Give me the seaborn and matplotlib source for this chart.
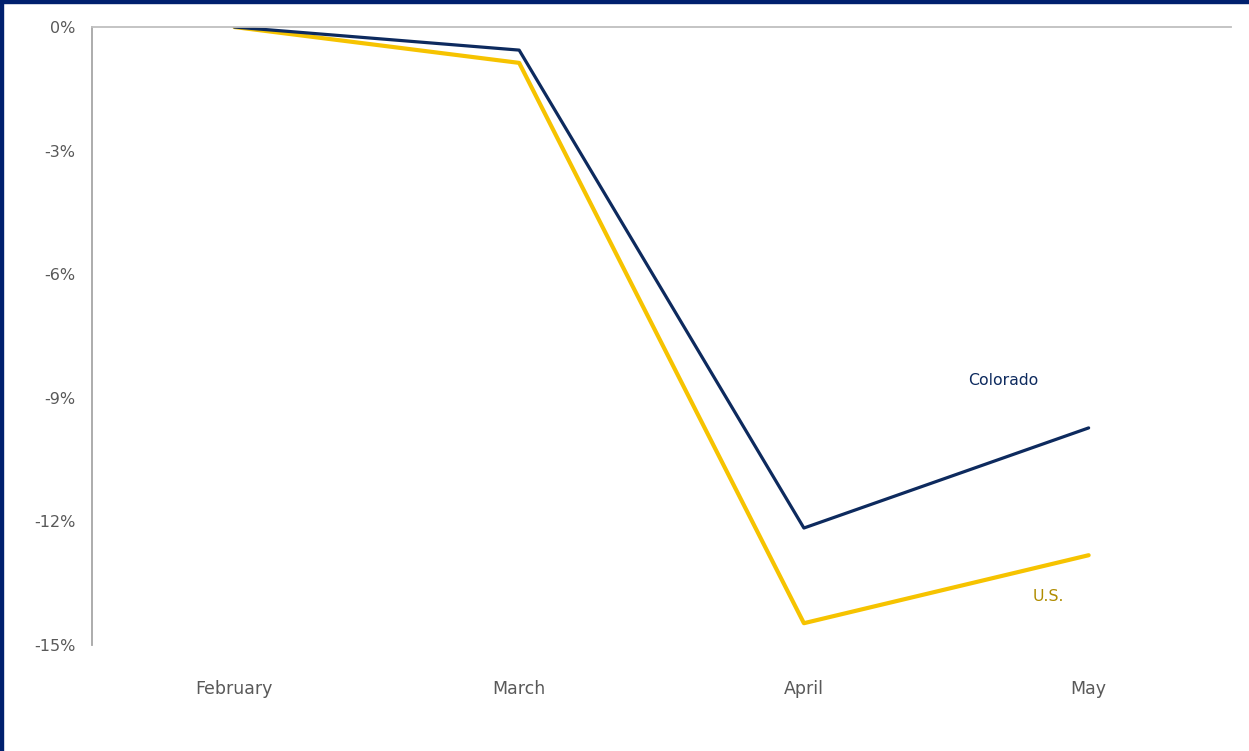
import pandas as pd
import matplotlib.pyplot as plt
import seaborn as sns
from matplotlib.patches import Rectangle

# dados (variação % desde fevereiro)
months = ['February', 'March', 'April', 'May']
colorado = [0.0, -0.56, -12.16, -9.73]
us = [0.0, -0.87, -14.47, -12.82]
yticks = [0, -3, -6, -9, -12, -15]

df = pd.DataFrame({
    'month': months * 2,
    'value': colorado + us,
    'region': ['Colorado'] * len(months) + ['U.S.'] * len(months),
})

sns.set_style('white')
plt.rcParams['font.family'] = ['DejaVu Sans']

fig = plt.figure(figsize=(12.49, 7.51), dpi=100)
ax = fig.add_axes([0.0737, 0.1411, 0.9119, 0.8229])

palette = {'Colorado': '#0d2a5e', 'U.S.': '#f6c300'}
sns.lineplot(data=df[df.region == 'U.S.'], x='month', y='value', color=palette['U.S.'],
             linewidth=3.0, ax=ax, legend=False, sort=False)
sns.lineplot(data=df[df.region == 'Colorado'], x='month', y='value', color=palette['Colorado'],
             linewidth=2.3, ax=ax, legend=False, sort=False)

ax.set_xlim(-0.5, 3.5)
ax.set_ylim(-15, 0)
ax.set_yticks(yticks)
ax.set_yticklabels([f'{t}%' for t in yticks])
ax.set_xlabel('')
ax.set_ylabel('')
ax.tick_params(axis='both', length=0, colors='#595959')
ax.tick_params(axis='x', pad=25, labelsize=12.5)
ax.tick_params(axis='y', pad=12, labelsize=11.5)

for s in ['right', 'bottom']:
    ax.spines[s].set_visible(False)
ax.spines['left'].set_color('#a6a6a6')
ax.spines['left'].set_linewidth(1.3)
ax.spines['top'].set_color('#bfbfbf')
ax.spines['top'].set_linewidth(1.3)

ax.text(2.70, -8.57, 'Colorado', color=palette['Colorado'], fontsize=11.3, ha='center', va='center')
ax.text(2.86, -13.83, 'U.S.', color='#b08c00', fontsize=11.3, ha='center', va='center')

# moldura azul (topo e esquerda)
fig.patches.append(Rectangle((0, 1 - 3 / 751), 1, 3 / 751, transform=fig.transFigure,
                             color='#00206e', zorder=10))
fig.patches.append(Rectangle((0, 0), 3 / 1249, 1, transform=fig.transFigure,
                             color='#00206e', zorder=10))

fig.savefig('out.png', dpi=100)
